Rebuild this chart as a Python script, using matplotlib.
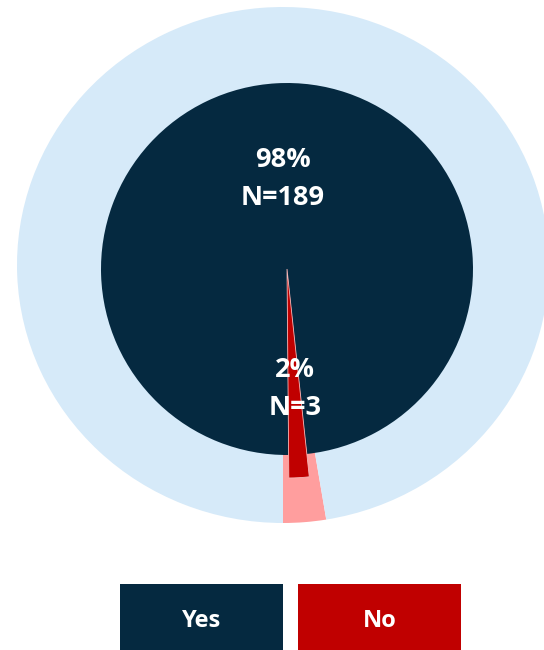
import matplotlib.pyplot as plt
from matplotlib.patches import Rectangle

# data
labels = ["No", "Yes"]
counts = [3, 189]
pct_labels = ["2%", "98%"]
outer_share = [2.6, 97.4]   # outer ring

navy = "#052940"
red = "#c00000"
pink = "#ff9e9e"
light = "#d6eaf9"

W, H = 544, 650
fig = plt.figure(figsize=(W / 100, H / 100), dpi=100)

# outer ring (slightly elliptical in the picture) on its own axes
cx, cy, rx, ry = 283, 265, 266, 258
ax_out = fig.add_axes([(cx - rx) / W, (H - cy - ry) / H, 2 * rx / W, 2 * ry / H])
ax_out.pie(outer_share, colors=[pink, light], startangle=270, counterclock=True,
           radius=1, wedgeprops=dict(linewidth=0))
ax_out.set_xlim(-1, 1)
ax_out.set_ylim(-1, 1)
ax_out.set_aspect("auto")
ax_out.axis("off")

# inner pie in pixel coordinates
ax = fig.add_axes([0, 0, 1, 1])
icx, icy = 287, H - 269
start = 270.5
ax.pie(counts, colors=[red, navy], startangle=start, counterclock=True,
       radius=186, center=(icx, icy), wedgeprops=dict(linewidth=0))
# the "No" slice sticks out past the navy circle
wedges, _ = ax.pie(counts, colors=[red, "none"], startangle=start, counterclock=True,
                   radius=209, center=(icx, icy), wedgeprops=dict(linewidth=0))
wedges[0].set_edgecolor("#f4b8b8")
wedges[0].set_linewidth(0.6)
ax.set_xlim(0, W)
ax.set_ylim(0, H)
ax.set_aspect("auto")
ax.axis("off")

font = dict(family="Open Sans", weight="bold", color="white", ha="center", va="center", fontsize=19.5)
ax.text(283, H - 160, pct_labels[1], **font)
ax.text(283, H - 198, "N=" + str(counts[1]), **font)
ax.text(295, H - 370, pct_labels[0], **font)
ax.text(295, H - 408, "N=" + str(counts[0]), **font)

# legend boxes
for i, (lab, col) in enumerate(zip(["Yes", "No"], [navy, red])):
    x0 = 120 + i * 178
    ax.add_patch(Rectangle((x0, 0), 163, H - 584, facecolor=col, edgecolor="none"))
    ax.text(x0 + 81.5, H - 621, lab, family="Open Sans", weight="bold", color="white",
            ha="center", va="center", fontsize=17)

fig.savefig("out.png", dpi=100)
